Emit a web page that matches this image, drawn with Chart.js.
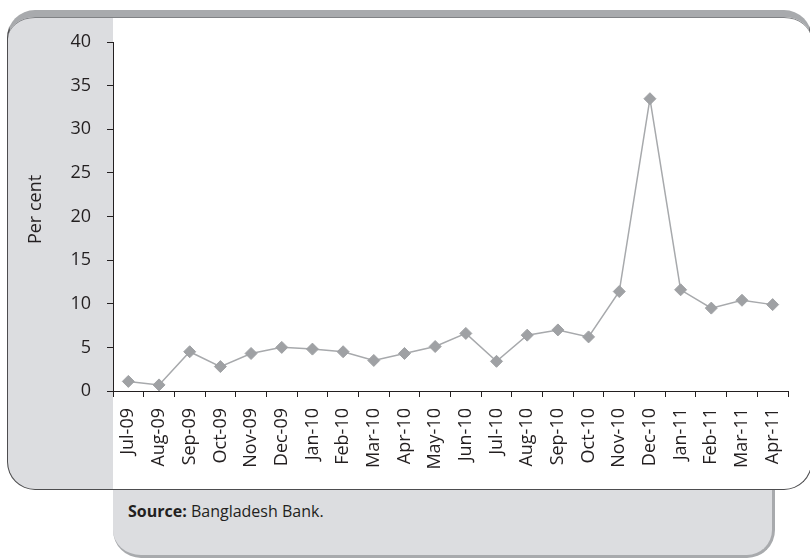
<!DOCTYPE html>
<html>
<head>
<meta charset="utf-8">
<script src="https://cdn.jsdelivr.net/npm/chart.js@4.4.1/dist/chart.umd.min.js"></script>
<style>
  html, body { margin: 0; padding: 0; background: #fff; }
  body { width: 810px; height: 558px; position: relative; overflow: hidden; font-family: "Open Sans", sans-serif; }
  .panel {
    position: absolute; left: 113px; top: 100px; width: 662px; height: 458px;
    box-sizing: border-box; background: #dcdde0;
    border-right: 3px solid #a8aaad; border-bottom: 3px solid #a8aaad;
    border-radius: 0 0 28px 28px;
  }
  .box {
    position: absolute; left: 7px; top: 10px; width: 805px; height: 480px;
    box-sizing: border-box;
    background: linear-gradient(to right, #dcdde0 0, #dcdde0 104.5px, #fff 104.5px);
    border: 1.5px solid #4d4d4f; border-top: 7px solid #a8aaad;
    border-radius: 28px;
    box-shadow: inset 0 1px 0 #808285;
  }
  .source { position: absolute; left: 128px; top: 500px; font-size: 16px; line-height: 22px; color: #231f20; }
  canvas { position: absolute; left: 0; top: 0; }
</style>
</head>
<body>
<div class="panel"></div>
<div class="box"></div>
<div class="source"><b>Source:</b> Bangladesh Bank.</div>
<canvas id="lineChart" width="810" height="558"></canvas>
<script>
const months = ['Jul-09', 'Aug-09', 'Sep-09', 'Oct-09', 'Nov-09', 'Dec-09', 'Jan-10', 'Feb-10',
  'Mar-10', 'Apr-10', 'May-10', 'Jun-10', 'Jul-10', 'Aug-10', 'Sep-10', 'Oct-10', 'Nov-10',
  'Dec-10', 'Jan-11', 'Feb-11', 'Mar-11', 'Apr-11'];
const perCent = [1.1, 0.7, 4.5, 2.8, 4.3, 5.0, 4.8, 4.5, 3.5, 4.3, 5.1, 6.6, 3.4, 6.4, 7.0, 6.2,
  11.4, 33.5, 11.6, 9.5, 10.4, 9.9];
const yTicks = [0, 5, 10, 15, 20, 25, 30, 35, 40];

const axisColor = '#231f20';
const tickFont = { family: 'Open Sans', size: 18 };

function renderChart() {
  const ctx = document.getElementById('lineChart').getContext('2d');
  new Chart(ctx, {
    type: 'line',
    data: {
      labels: months,
      datasets: [{
        data: perCent,
        borderColor: '#a7a9ac',
        borderWidth: 1.5,
        pointStyle: 'rectRot',
        pointRadius: 6,
        pointBackgroundColor: '#9fa1a4',
        pointBorderColor: '#9fa1a4',
        pointBorderWidth: 1,
        tension: 0
      }]
    },
    options: {
      responsive: false,
      animation: false,
      layout: { padding: { top: 42, right: 22, bottom: 0, left: 0 } },
      plugins: {
        legend: { display: false },
        tooltip: { enabled: false }
      },
      scales: {
        x: {
          offset: true,
          afterFit: scale => { scale.height = 167; },
          grid: { offset: true, drawOnChartArea: false, tickLength: 6, color: axisColor },
          border: { color: axisColor, width: 1 },
          ticks: { color: axisColor, font: tickFont, minRotation: 90, maxRotation: 90, padding: 11, autoSkip: false }
        },
        y: {
          min: 0,
          max: 40,
          afterFit: scale => { scale.width = 113; },
          afterBuildTicks: scale => { scale.ticks = yTicks.map(v => ({ value: v })); },
          grid: { drawOnChartArea: false, tickLength: 6, color: axisColor },
          border: { color: axisColor, width: 1 },
          ticks: { color: axisColor, font: tickFont, padding: 16 },
          title: {
            display: true,
            // leading spaces nudge the rotated title a little above centre
            text: '   Per cent',
            color: axisColor,
            font: tickFont,
            padding: { top: 25, bottom: 0 }
          }
        }
      }
    }
  });
}

renderChart();
</script>
</body>
</html>
